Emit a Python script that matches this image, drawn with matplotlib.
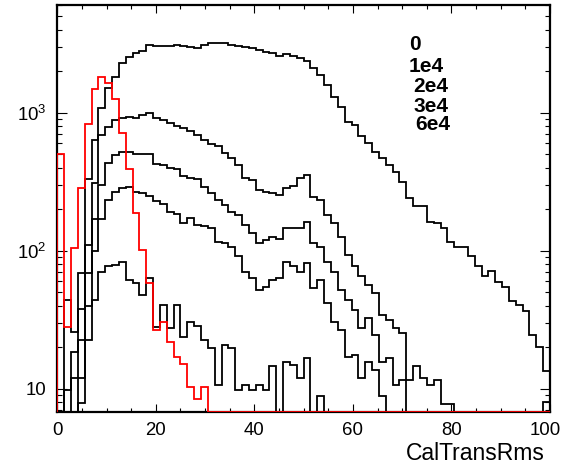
import numpy as np
import matplotlib
matplotlib.use("Agg")
import matplotlib.pyplot as plt
from matplotlib.transforms import ScaledTranslation
from matplotlib.ticker import MultipleLocator, FixedLocator, FixedFormatter, LogLocator, NullFormatter

plt.rcParams['font.family'] = ['Liberation Sans', 'DejaVu Sans']
plt.rcParams['mathtext.fontset'] = 'custom'
plt.rcParams['mathtext.rm'] = 'Liberation Sans'
plt.rcParams['mathtext.it'] = 'Liberation Sans:italic'
plt.rcParams['mathtext.bf'] = 'Liberation Sans:bold'

# ---- data: 72 bins over CalTransRms 0..100 ----
x_min, x_max, n_bins = 0.0, 100.0, 72

h_0 = [0, 44, 25.9, 68.6, 330, 634, 1076, 1500, 1824, 2280, 2520, 2700, 2810, 3090, 3020, 3040,
       3020, 3070, 3040, 3010, 2960, 3090, 3180, 3180, 3180, 3090, 3040, 2980, 2930, 2850, 2770, 2720,
       2590, 2650, 2590, 2480, 2380, 2100, 1880, 1590, 1300, 1100, 852, 815, 682, 600, 523, 470,
       418, 374, 313, 240, 211, 211, 162, 158, 145, 116, 106, 106, 91, 77, 66, 71, 59.6, 54.5,
       43, 40.5, 36.5, 24.6, 20.2, 13.5]

h_1e4 = [0, 9.8, 18.5, 37.8, 110, 311, 689, 792, 879, 910, 935, 910, 962, 1000, 910, 879,
         838, 800, 771, 737, 689, 634, 590, 573, 508, 467, 418, 334, 325, 275, 268, 260,
         253, 284, 294, 334, 354, 247, 233, 181, 158, 126, 93, 77, 65.5, 56.6, 49.3, 34.3,
         31.6, 27.4, 25.5, 0, 0, 0, 0, 0, 0, 0, 0, 0, 0, 0, 0, 0, 0, 0,
         0, 0, 0, 0, 0, 8]

h_2e4 = [0, 0, 12, 22.6, 69, 170, 300, 430, 490, 515, 515, 505, 500, 505, 425, 420,
         395, 390, 345, 335, 330, 290, 260, 233, 214, 192, 181, 154, 134, 113, 120, 126,
         121, 145, 145, 145, 162, 114, 107, 83, 70, 52, 44, 37.3, 27.4, 32.5, 24.6, 15.7,
         16.6, 10.7, 11.6, 11.6, 14.6, 11.9, 10.7, 11.6, 7.8, 7.8, 0, 0, 0, 0, 0, 0, 0, 0,
         0, 0, 0, 0, 0, 0]

h_3e4 = [0, 0, 0, 12, 40, 100, 170, 233, 268, 285, 290, 268, 260, 250, 228, 218,
         192, 186, 158, 172, 154, 150, 145, 116, 113, 107, 91, 70, 63, 52, 55, 61.5,
         63, 83, 77, 70, 81, 53.5, 61.5, 41.6, 30.5, 26.7, 17.1, 17.6, 11.9, 15.7, 13.7, 8.8,
         0, 0, 0, 0, 0, 0, 0, 0, 0, 0, 0, 0, 0, 0, 0, 0, 0, 0,
         0, 0, 0, 0, 0, 0]

h_6e4 = [0, 0, 0, 7.9, 22.6, 44, 70, 77, 79, 83, 61.5, 58, 48, 63, 28, 40.5,
         27.4, 40.5, 23.8, 30.6, 28.4, 22.6, 19.7, 10.7, 20.8, 19.7, 9.8, 10.7, 9.8, 10.7, 9.8, 14.5,
         0, 15.7, 14.9, 11.9, 16.6, 0, 8.8, 0, 0, 0, 0, 0, 0, 0, 0, 0,
         0, 0, 0, 0, 0, 0, 0, 0, 0, 0, 0, 0, 0, 0, 0, 0, 0, 0,
         0, 0, 0, 0, 0, 0]

h_red = [502, 27.8, 105, 283, 828, 1477, 1824, 1633, 1250, 710, 389, 188, 101, 58.5, 26.7, 30.4,
         21.7, 17.1, 15.2, 10.3, 8.4, 10.3] + [0] * 50

labels = ["0", "1e4", "2e4", "3e4", "6e4"]
x_ticks = [0, 20, 40, 60, 80, 100]
x_tick_labels = ["0", "20", "40", "60", "80", "100"]
y_lo, y_hi = 6.78, 6030
x_label = "CalTransRms"

# ---- figure ----
W, H = 562, 471
fig = plt.figure(figsize=(W / 100, H / 100), dpi=100)
ax = fig.add_axes([57.3 / W, 1 - 412 / H, (550 - 57.3) / W, (412 - 5) / H])

edges = np.linspace(x_min, x_max, n_bins + 1)
for h in [h_0, h_1e4, h_2e4, h_3e4, h_6e4]:
    v = np.maximum(np.asarray(h, float), y_lo)
    ax.stairs(v, edges, baseline=y_lo, color='black', lw=1.3, zorder=2)
v = np.maximum(np.asarray(h_red, float), y_lo)
ax.stairs(v, edges, baseline=y_lo, color='#ff0000', lw=1.3, zorder=3)

ax.set_yscale('log')
ax.set_xlim(x_min, x_max)
ax.set_ylim(y_lo, y_hi)

ax.xaxis.set_major_locator(FixedLocator(x_ticks))
ax.xaxis.set_major_formatter(FixedFormatter(x_tick_labels))
ax.xaxis.set_minor_locator(MultipleLocator(5))
ax.yaxis.set_major_locator(FixedLocator([10, 100, 1000]))
ax.yaxis.set_major_formatter(FixedFormatter(['10', r'$10^{2}$', r'$10^{3}$']))
ax.yaxis.set_minor_locator(LogLocator(base=10, subs=np.arange(2, 10), numticks=20))
ax.yaxis.set_minor_formatter(NullFormatter())

ax.tick_params(axis='both', which='both', direction='in', top=True, right=True,
               colors='black', labelsize=13.4, width=0.8)
ax.tick_params(axis='x', which='major', length=6, pad=7)
ax.tick_params(axis='x', which='minor', length=3)
ax.tick_params(axis='y', which='major', length=7.5, pad=8)
ax.tick_params(axis='y', which='minor', length=3.8)
for s in ax.spines.values():
    s.set_linewidth(1.6)

fig.text(545 / W, 1 - 453 / H, x_label, ha='right', va='center', fontsize=16.5)

lab_pos = [(409, 45), (409, 66), (413, 87), (413, 106.5), (415, 125)]
for t, (px, py) in zip(labels, lab_pos):
    fig.text(px / W, 1 - py / H, t, ha='left', va='center', fontsize=15, fontweight='bold')

# nudge the last x tick label so it stays inside the canvas, as in the reference
fig.canvas.draw()
last = ax.get_xticklabels()[-1]
last.set_transform(last.get_transform() + ScaledTranslation(-5 / 100, 0, fig.dpi_scale_trans))

fig.savefig('out.png', dpi=100)
